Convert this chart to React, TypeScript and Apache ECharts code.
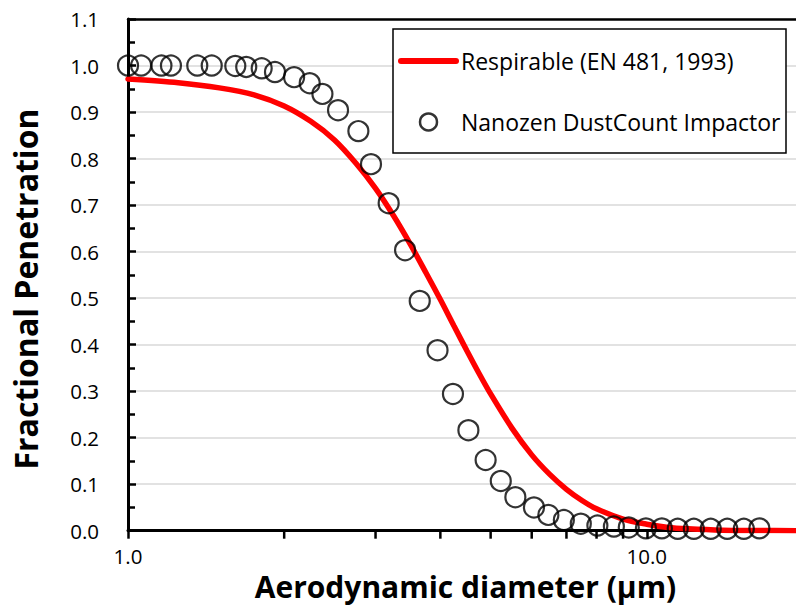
import React, { useEffect, useRef } from 'react';
import * as echarts from 'echarts';

// EN 481 respirable convention curve
const respDiam = [1, 1.25, 1.5, 1.75, 2, 2.25, 2.5, 2.75, 3, 3.25, 3.5, 3.75, 4, 4.25, 4.5, 4.75, 5, 5.5, 6, 6.5, 7, 7.5, 8, 9, 10, 11, 12, 14, 16, 20];
const respPen = [0.971, 0.963, 0.952, 0.937, 0.913, 0.880, 0.840, 0.790, 0.736, 0.677, 0.616, 0.555, 0.497, 0.440, 0.387, 0.338, 0.294, 0.220, 0.163, 0.121, 0.089, 0.065, 0.047, 0.025, 0.014, 0.007, 0.004, 0.001, 0.0004, 0];

// Nanozen DustCount impactor measured points
const npDiam = [1.0, 1.06, 1.16, 1.21, 1.36, 1.45, 1.61, 1.69, 1.81, 1.92, 2.09, 2.24, 2.37, 2.54, 2.78, 2.94, 3.18, 3.42, 3.65, 3.95, 4.23, 4.53, 4.89, 5.23, 5.58, 6.06, 6.46, 6.92, 7.46, 8.03, 8.64, 9.23, 9.96, 10.69, 11.47, 12.32, 13.28, 14.29, 15.38, 16.48];
const npPen = [1.0, 1.0, 1.0, 1.0, 1.0, 1.0, 0.999, 0.997, 0.994, 0.986, 0.975, 0.962, 0.939, 0.904, 0.859, 0.788, 0.704, 0.603, 0.494, 0.388, 0.294, 0.216, 0.152, 0.107, 0.072, 0.05, 0.034, 0.023, 0.015, 0.011, 0.009, 0.007, 0.005, 0.005, 0.004, 0.004, 0.004, 0.004, 0.004, 0.005];

// minor tick positions on the log x axis
const minorTickDiam = [2, 3, 4, 5, 6, 7, 8, 9];
const majorXLabels = [1, 10];

const respName = 'Respirable (EN 481, 1993)';
const npName = 'Nanozen DustCount Impactor';
const xTitle = 'Aerodynamic diameter (µm)';
const yTitle = 'Fractional Penetration';

const FONT = 'Open Sans';

export default function App() {
  const ref = useRef<HTMLDivElement>(null);
  useEffect(() => {
    const chart = echarts.init(ref.current as HTMLDivElement, null, { renderer: 'svg' });
    const option: any = {
      animation: false,
      backgroundColor: '#ffffff',
      grid: {
        left: 128, top: 19, width: 675, height: 511.7,
        show: false, containLabel: false, outerBoundsMode: 'none',
      },
      xAxis: [
        {
          type: 'log', logBase: 10, min: 1, max: 20,
          name: xTitle, nameLocation: 'middle', nameGap: 41,
          nameTextStyle: { fontFamily: FONT, fontWeight: 'bold', fontSize: 30, color: '#000' },
          axisLine: { show: true, onZero: false, lineStyle: { color: '#000', width: 3 } },
          axisTick: { show: true, inside: false, length: 8, lineStyle: { color: '#000', width: 2.5 } },
          axisLabel: {
            margin: 15, fontFamily: FONT, fontSize: 20.5, color: '#000',
            formatter: (v: number) => (majorXLabels.some((m) => Math.abs(v - m) < 1e-6) ? v.toFixed(1) : ''),
          },
          splitLine: { show: false },
        },
        {
          type: 'log', logBase: 10, min: 1, max: 20, position: 'top',
          axisLine: { show: true, onZero: false, lineStyle: { color: '#000', width: 2.5 } },
          axisTick: { show: false }, axisLabel: { show: false }, splitLine: { show: false },
        },
      ],
      yAxis: {
        type: 'value', min: 0, max: 1.1, interval: 0.1,
        axisLine: { show: true, onZero: false, lineStyle: { color: '#000', width: 3 } },
        axisTick: { show: true, inside: true, length: 8, lineStyle: { color: '#000', width: 2.5 } },
        minorTick: { show: true, splitNumber: 2, length: 7, lineStyle: { color: '#000', width: 2.5 } },
        axisLabel: { margin: 29, fontFamily: FONT, fontSize: 20.5, color: '#000', formatter: (v: number) => v.toFixed(1) },
        splitLine: { show: true, lineStyle: { color: '#d9d9d9', width: 1.5 } },
      },
      legend: {
        orient: 'vertical', left: 398, top: 49, padding: 0, itemWidth: 55, itemHeight: 17, itemGap: 37,
        selectedMode: false, z: 5,
        textStyle: { fontFamily: FONT, fontSize: 23, color: '#000', lineHeight: 24 },
        data: [
          { name: respName, itemStyle: { color: 'rgba(0,0,0,0)', borderWidth: 0, opacity: 0 }, lineStyle: { color: '#ff0000', width: 6, cap: 'round' } },
          { name: npName, icon: 'circle', itemStyle: { color: 'rgba(0,0,0,0)', borderColor: '#000', borderWidth: 2.5 } },
        ],
      },
      graphic: [
        {
          type: 'rect', z: 3, shape: { x: 393, y: 29, width: 393, height: 124 },
          style: { fill: '#fff', stroke: '#000', lineWidth: 1.5 },
        },
        {
          type: 'text', x: 25, y: 289, rotation: Math.PI / 2,
          style: { text: yTitle, fontFamily: FONT, fontWeight: 'bold', fontSize: 32, fill: '#000', align: 'center', verticalAlign: 'middle' },
        },
      ],
      series: [
        {
          name: respName, type: 'line', symbol: 'none', smooth: 0.3, z: 2,
          lineStyle: { color: '#ff0000', width: 5.5, cap: 'round' },
          itemStyle: { color: '#ff0000' },
          data: respDiam.map((d, i) => [d, respPen[i]]),
        },
        {
          name: npName, type: 'scatter', symbol: 'circle', symbolSize: 20, z: 3,
          itemStyle: { color: 'rgba(0,0,0,0)', borderColor: '#000', borderWidth: 2.2 },
          data: npDiam.map((d, i) => [d, npPen[i]]),
        },
        {
          name: 'minorTicks', type: 'custom', silent: true, z: 1, clip: false,
          data: minorTickDiam.map((d) => [d, 0]),
          renderItem: (params: any, api: any) => {
            const p = api.coord([api.value(0), api.value(1)]);
            return {
              type: 'line',
              shape: { x1: p[0], y1: p[1], x2: p[0], y2: p[1] + 8 },
              style: { stroke: '#000', lineWidth: 2.5 },
            };
          },
        },
      ],
    };
    chart.setOption(option);
    return () => chart.dispose();
  }, []);
  return <div ref={ref} style={{ position: 'fixed', left: 0, top: 0, width: 796, height: 609 }} />;
}
